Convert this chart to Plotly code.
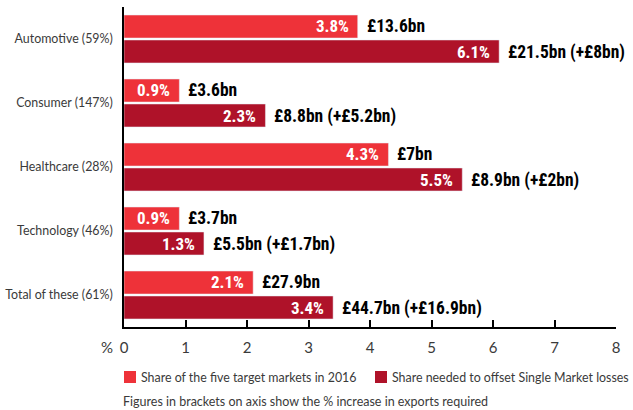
import plotly.graph_objects as go

categories = ["Automotive (59%)", "Consumer (147%)", "Healthcare (28%)", "Technology (46%)", "Total of these (61%)"]
share_2016 = [3.8, 0.9, 4.3, 0.9, 2.1]
share_needed = [6.1, 2.3, 5.5, 1.3, 3.4]
value_2016 = ["£13.6bn", "£3.6bn", "£7bn", "£3.7bn", "£27.9bn"]
value_needed = ["£21.5bn (+£8bn)", "£8.8bn (+£5.2bn)", "£8.9bn (+£2bn)", "£5.5bn (+£1.7bn)", "£44.7bn (+£16.9bn)"]
legend_names = ["Share of the five target markets in 2016", "Share needed to offset Single Market losses"]
footnote = "Figures in brackets on axis show the % increase in exports required"
x_ticks = [0, 1, 2, 3, 4, 5, 6, 7, 8]

LIGHT = "#EE3239"
DARK = "#AF1229"
BOLD_FONT = "Roboto Condensed, Open Sans Condensed, sans-serif"
REG_FONT = "Lato, Roboto, sans-serif"
GREY = "#3a3a3a"

fig = go.Figure()
fig.add_trace(go.Bar(y=categories, x=share_2016, orientation="h", marker_color=LIGHT, name=legend_names[0]))
fig.add_trace(go.Bar(y=categories, x=share_needed, orientation="h", marker_color=DARK, name=legend_names[1]))

ann = []
for cat, v1, v2, t1, t2 in zip(categories, share_2016, share_needed, value_2016, value_needed):
    for v, t, shift in ((v1, t1, 13), (v2, t2, -13)):
        ann.append(dict(x=v, y=cat, xref="x", yref="y", text=f"{v:.1f}%", showarrow=False,
                        xanchor="right", xshift=-7, yshift=shift,
                        font=dict(family=BOLD_FONT, size=17, color="white", weight="bold")))
        ann.append(dict(x=v, y=cat, xref="x", yref="y", text=t, showarrow=False,
                        xanchor="left", xshift=7, yshift=shift,
                        font=dict(family=BOLD_FONT, size=17.5, color="black", weight="bold")))

PW, PH = 492.0, 320.0
def px_x(p):
    return (p - 124) / PW
def px_y(p):
    return (327 - p) / PH

ann.append(dict(x=px_x(115), y=px_y(347), xref="paper", yref="paper", text="%", showarrow=False,
                xanchor="right", yanchor="middle", font=dict(family=REG_FONT, size=15, color=GREY)))
shapes = []
for xs, name, col in ((124, legend_names[0], LIGHT), (375, legend_names[1], DARK)):
    shapes.append(dict(type="rect", xref="paper", yref="paper", x0=px_x(xs), x1=px_x(xs + 12),
                       y0=px_y(383), y1=px_y(371), fillcolor=col, line=dict(width=0)))
    ann.append(dict(x=px_x(xs + 15), y=px_y(377), xref="paper", yref="paper", text=name, showarrow=False,
                    xanchor="left", yanchor="middle", font=dict(family=REG_FONT, size=12.4, color=GREY)))
ann.append(dict(x=px_x(121), y=px_y(401), xref="paper", yref="paper", text=footnote, showarrow=False,
                xanchor="left", yanchor="middle", font=dict(family=REG_FONT, size=12.5, color=GREY)))

fig.update_layout(
    width=633, height=410,
    margin=dict(l=124, r=17, t=7, b=83, autoexpand=False),
    paper_bgcolor="white", plot_bgcolor="white",
    barmode="group", bargap=0.22, bargroupgap=0.08,
    showlegend=False,
    annotations=ann, shapes=shapes,
    xaxis=dict(range=[0, 8], tickvals=x_ticks, showgrid=False, zeroline=False,
               showline=True, linecolor="black", linewidth=1.5,
               ticks="inside", ticklen=7, tickcolor="black", tickwidth=1.5,
               ticklabelstandoff=6,
               tickfont=dict(family=REG_FONT, size=15, color=GREY)),
    yaxis=dict(autorange="reversed", showgrid=False, showline=True, linecolor="black", linewidth=1.5,
               ticks="", ticklabelstandoff=7,
               tickfont=dict(family=REG_FONT, size=12.4, color=GREY)),
)
fig.write_html("out.html", config={"displayModeBar": False},
               post_script="document.body.style.margin='0';document.body.style.overflow='hidden';")
